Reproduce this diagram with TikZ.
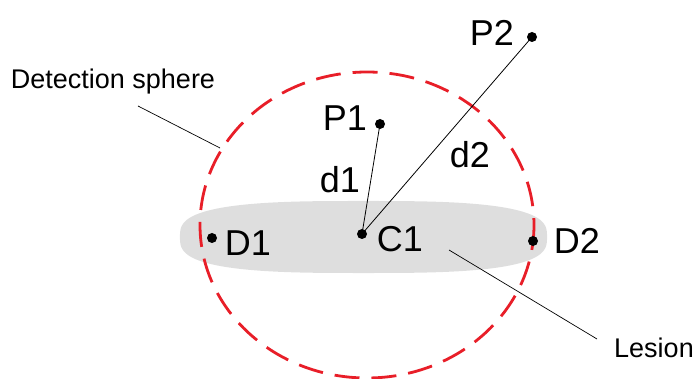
\documentclass[tikz,border=0pt]{standalone}
\usepackage{fontspec}
\setmainfont{Liberation Sans}
\definecolor{sphred}{RGB}{232,30,40}
\definecolor{lesgray}{RGB}{222,222,222}
\begin{document}
\begin{tikzpicture}[x=1pt,y=-1pt,
  lesionfill/.style={fill=lesgray},
  sphereline/.style={draw=sphred, line width=2.8pt, dash pattern=on 25pt off 12pt},
  dot/.style={circle, fill=black, inner sep=0pt, minimum size=10pt},
  biglabel/.style={inner sep=0pt, font=\fontsize{36}{40}\selectfont},
  smalllabel/.style={inner sep=0pt, font=\fontsize{27}{30}\selectfont},
  link/.style={draw=black, line width=0.8pt},
  leader/.style={draw=black, line width=0.7pt}]
\useasboundingbox (0,0) rectangle (697,379);

% lesion body: a flattened superellipse
\fill[lesionfill] plot[domain=1:361, samples=181, smooth cycle]
  ({363.5+183.5*sign(cos(\x))*abs(cos(\x))^0.667},
   {237+36*sign(sin(\x))*abs(sin(\x))^0.667});

% detection sphere
\draw[sphereline] (367,225) ellipse [x radius=167, y radius=153];

% points
\node[dot] (P1) at (380,124) {};
\node[dot] (P2) at (532,37) {};
\node[dot] (C1) at (362,234) {};
\node[dot] (D1) at (212,238) {};
\node[dot] (D2) at (533,241) {};

% distances from the centre
\draw[link] (C1.center) -- (P1.center);
\draw[link] (C1.center) -- (P2.center);

% point labels
\node[biglabel] (P1l) at (345,118) {P1};
\node[biglabel] (P2l) at (492,33) {P2};
\node[biglabel] (C1l) at (400,239) {C1};
\node[biglabel] (D1l) at (248,243) {D1};
\node[biglabel] (D2l) at (577,241) {D2};
\node[biglabel] (d1l) at (340,180) {d1};
\node[biglabel] (d2l) at (470,155) {d2};

% callouts
\node[smalllabel] (sphl) at (113,82) {Detection sphere};
\coordinate (sphA) at (138,106);
\coordinate (sphB) at (220,148);
\draw[leader] (sphA) -- (sphB);

\node[smalllabel] (lesl) at (654,348) {Lesion};
\coordinate (lesA) at (449,250);
\coordinate (lesB) at (597,339);
\draw[leader] (lesA) -- (lesB);
\end{tikzpicture}
\end{document}
